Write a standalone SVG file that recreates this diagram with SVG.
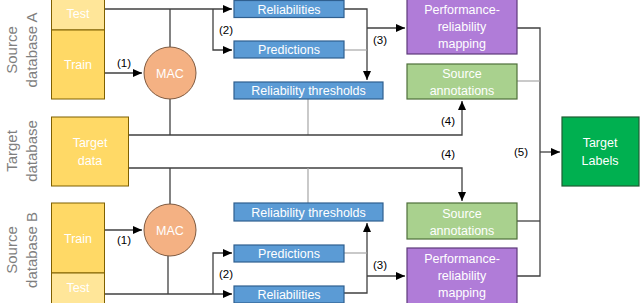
<svg xmlns="http://www.w3.org/2000/svg" width="640" height="303" viewBox="0 0 640 303">
<defs>
<marker id="ah" markerWidth="10" markerHeight="10" refX="9" refY="5" orient="auto" markerUnits="userSpaceOnUse">
<path d="M0,1 L9,5 L0,9 Z" fill="#000"/>
</marker>
<style>
.t{font-family:"Liberation Sans",Arial,sans-serif;font-size:12.5px;fill:#fff;text-anchor:middle}
.side{font-family:"Liberation Sans",Arial,sans-serif;font-size:15px;fill:#7f7f7f;text-anchor:middle}
.lab{font-family:"Liberation Sans",Arial,sans-serif;font-size:11.5px;fill:#000;text-anchor:middle}
.ln{fill:none;stroke:#404040;stroke-width:1.3}
.lg{fill:none;stroke:#a6a6a6;stroke-width:1.2}
.yl{fill:#ffd966;stroke:#7f6000;stroke-width:1}
.ylt{fill:#ffe699;stroke:#7f6000;stroke-width:1}
.bl{fill:#5b9bd5;stroke:#2f5f8f;stroke-width:1.2}
.pu{fill:#b07cd8;stroke:#5e3a7a;stroke-width:1.2}
.gr{fill:#a9d18e;stroke:#4f6f3a;stroke-width:1.2}
.dg{fill:#00b050;stroke:#1e5e32;stroke-width:1.2}
.mac{fill:#f4b183;stroke:#7f5a40;stroke-width:1}
</style>
</defs>

<g id="side-labels">
<text class="side" transform="translate(17,50) rotate(-90)">Source</text>
<text class="side" transform="translate(37,50) rotate(-90)">database A</text>
<text class="side" transform="translate(17,151) rotate(-90)">Target</text>
<text class="side" transform="translate(37,151) rotate(-90)">database</text>
<text class="side" transform="translate(17,250) rotate(-90)">Source</text>
<text class="side" transform="translate(37,250) rotate(-90)">database B</text>
</g>

<g id="connectors">
<!-- top -->
<polyline class="ln" points="105,9 232,9" marker-end="url(#ah)"/>
<line class="ln" x1="170" y1="9" x2="170" y2="47"/>
<polyline class="ln" points="213,9 213,50 232,50" marker-end="url(#ah)"/>
<polyline class="ln" points="105,73 142,73" marker-end="url(#ah)"/>
<polyline class="ln" points="344,9 367,9 367,80" marker-end="url(#ah)"/>
<polyline class="lg" points="344,50 367,50"/>
<polyline class="ln" points="367,28 405,28" marker-end="url(#ah)"/>
<line class="ln" x1="170" y1="99" x2="170" y2="135"/>
<line class="lg" x1="308" y1="99" x2="308" y2="135"/>
<polyline class="ln" points="128,135 462,135 462,101" marker-end="url(#ah)"/>
<!-- bottom -->
<polyline class="ln" points="128,168 462,168 462,201" marker-end="url(#ah)"/>
<line class="ln" x1="170" y1="168" x2="170" y2="204"/>
<line class="lg" x1="308" y1="168" x2="308" y2="203"/>
<polyline class="ln" points="105,230 142,230" marker-end="url(#ah)"/>
<line class="ln" x1="168" y1="256" x2="168" y2="294"/>
<polyline class="ln" points="105,294 232,294" marker-end="url(#ah)"/>
<polyline class="ln" points="213,294 213,253 232,253" marker-end="url(#ah)"/>
<polyline class="ln" points="344,293 367,293 367,223" marker-end="url(#ah)"/>
<polyline class="lg" points="344,253 367,253"/>
<polyline class="ln" points="367,276 405,276" marker-end="url(#ah)"/>
<!-- right merge -->
<polyline class="ln" points="517,28 540,28 540,276 517,276"/>
<line class="lg" x1="517" y1="81" x2="540" y2="81"/>
<line class="ln" x1="517" y1="221" x2="540" y2="221"/>
<polyline class="ln" points="540,152 560,152" marker-end="url(#ah)"/>
<!-- labels -->
<text class="lab" x="124" y="67">(1)</text>
<text class="lab" x="226" y="34">(2)</text>
<text class="lab" x="380" y="44">(3)</text>
<text class="lab" x="448" y="125">(4)</text>
<text class="lab" x="448" y="158">(4)</text>
<text class="lab" x="521" y="156">(5)</text>
<text class="lab" x="124" y="244">(1)</text>
<text class="lab" x="226" y="278">(2)</text>
<text class="lab" x="380" y="269">(3)</text>
</g>

<g id="testA"><rect class="ylt" x="51.5" y="-1" width="53" height="31"/><text class="t" x="78" y="18">Test</text></g>
<g id="trainA"><rect class="yl" x="51.5" y="30" width="53" height="69"/><text class="t" x="78" y="69">Train</text></g>
<g id="macA"><circle class="mac" cx="170" cy="73" r="26"/><text class="t" x="170" y="78">MAC</text></g>
<g id="relA"><rect class="bl" x="234" y="0.5" width="110" height="17"/><text class="t" x="289" y="13.5">Reliabilities</text></g>
<g id="predA"><rect class="bl" x="234" y="41" width="110" height="17"/><text class="t" x="289" y="54">Predictions</text></g>
<g id="thrA"><rect class="bl" x="234" y="82" width="149" height="17"/><text class="t" x="308.5" y="95">Reliability thresholds</text></g>
<g id="prmA"><rect class="pu" x="407" y="-1" width="110" height="55"/><text class="t" x="462" y="14">Performance-</text><text class="t" x="462" y="31">reliability</text><text class="t" x="462" y="48">mapping</text></g>
<g id="saA"><rect class="gr" x="407" y="64" width="110" height="35"/><text class="t" x="462" y="78">Source</text><text class="t" x="462" y="95">annotations</text></g>

<g id="target"><rect class="yl" x="51.5" y="117" width="77" height="69"/><text class="t" x="90" y="147">Target</text><text class="t" x="90" y="165">data</text></g>
<g id="labels"><rect class="dg" x="562" y="117" width="77" height="69"/><text class="t" x="600" y="147">Target</text><text class="t" x="600" y="165">Labels</text></g>

<g id="trainB"><rect class="yl" x="51.5" y="203" width="53" height="70"/><text class="t" x="78" y="243">Train</text></g>
<g id="testB"><rect class="ylt" x="51.5" y="273" width="53" height="31"/><text class="t" x="78" y="292">Test</text></g>
<g id="macB"><circle class="mac" cx="170" cy="230" r="26"/><text class="t" x="170" y="235">MAC</text></g>
<g id="thrB"><rect class="bl" x="234" y="203" width="149" height="18"/><text class="t" x="308.5" y="216.5">Reliability thresholds</text></g>
<g id="predB"><rect class="bl" x="234" y="245" width="110" height="17"/><text class="t" x="289" y="258">Predictions</text></g>
<g id="relB"><rect class="bl" x="234" y="286" width="110" height="17"/><text class="t" x="289" y="299">Reliabilities</text></g>
<g id="saB"><rect class="gr" x="407" y="203" width="110" height="36"/><text class="t" x="462" y="218">Source</text><text class="t" x="462" y="235">annotations</text></g>
<g id="prmB"><rect class="pu" x="407" y="248" width="110" height="56"/><text class="t" x="462" y="263">Performance-</text><text class="t" x="462" y="280">reliability</text><text class="t" x="462" y="297">mapping</text></g>
</svg>
